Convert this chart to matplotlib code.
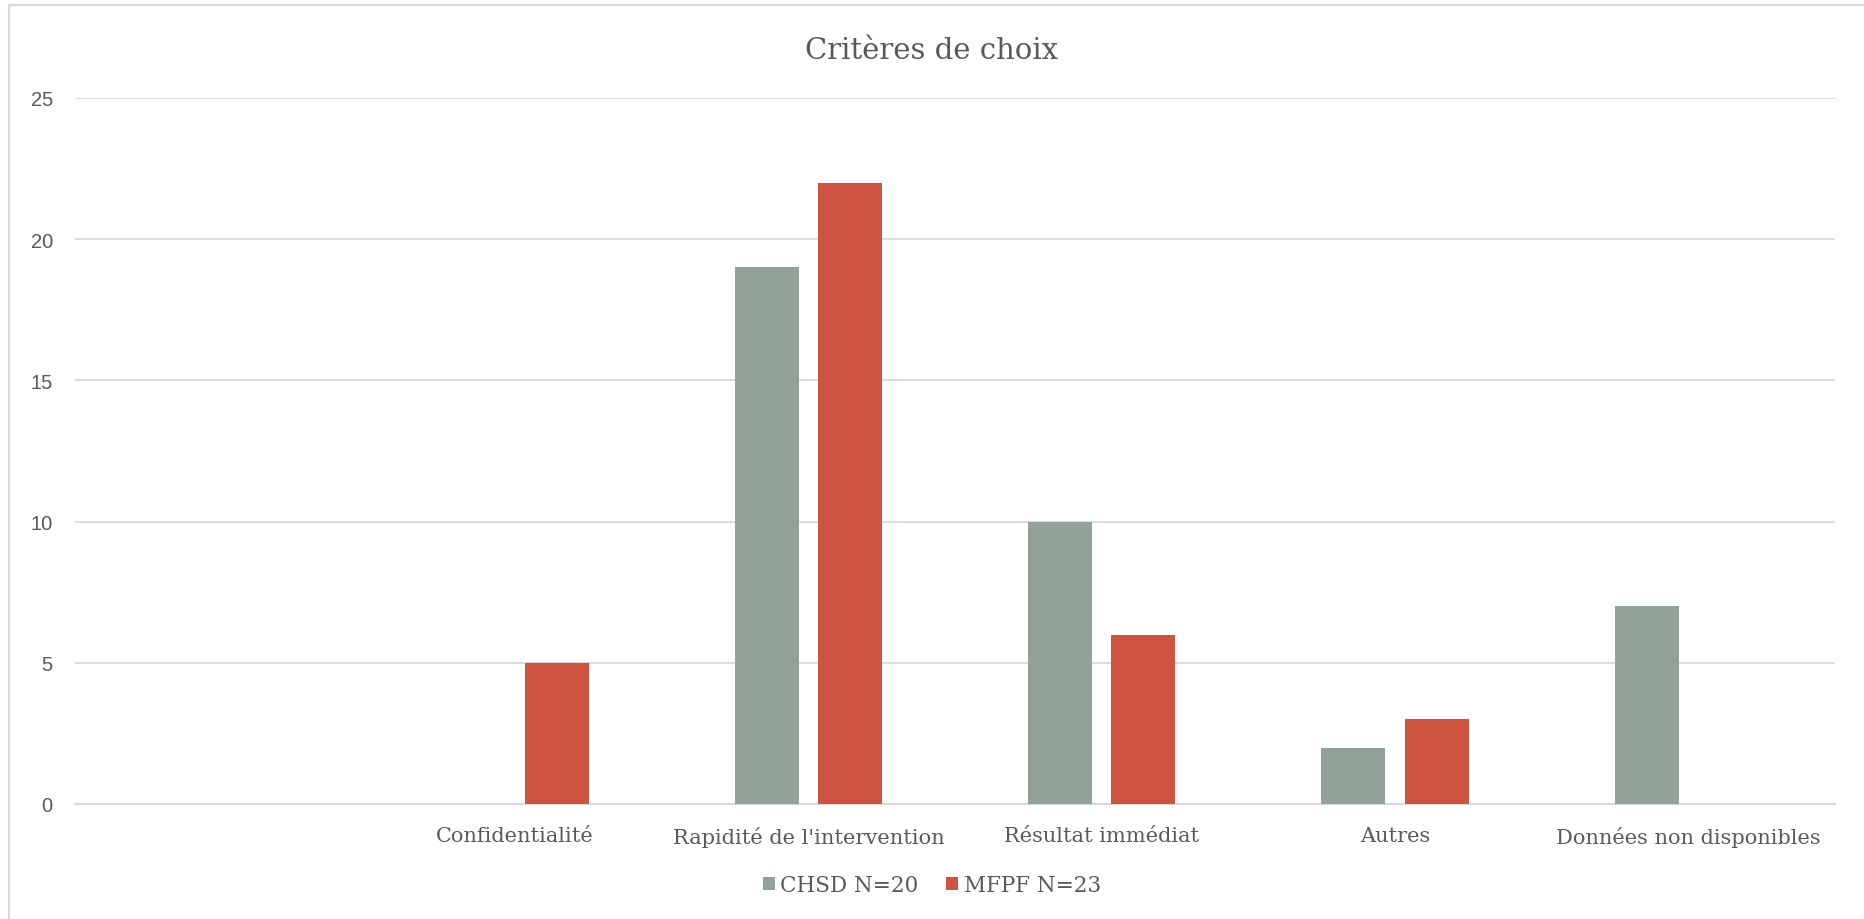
import matplotlib
matplotlib.use('Agg')
import matplotlib.pyplot as plt
from matplotlib.patches import Rectangle
import numpy as np

categories = ['', 'Confidentialité', "Rapidité de l'intervention",
              'Résultat immédiat', 'Autres', 'Données non disponibles']
chsd = [0, 0, 19, 10, 2, 7]
mfpf = [0, 5, 22, 6, 3, 0]
series_names = ['CHSD N=20', 'MFPF N=23']
yticks = [0, 5, 10, 15, 20, 25]

GREY_BAR = '#93A299'
RED_BAR = '#CF543F'
TEXT = '#595959'
GRID = '#D9D9D9'

plt.rcParams['font.family'] = ['DejaVu Serif']

fig = plt.figure(figsize=(18.64, 9.2), dpi=100)
ax = fig.add_axes([75/1864, 1 - 805/920, (1835 - 75)/1864, (805 - 99)/920])

x = np.arange(len(categories))
w = 0.219
off = 0.142
ax.bar(x - off, chsd, width=w, color=GREY_BAR, label=series_names[0], zorder=3)
ax.bar(x + off, mfpf, width=w, color=RED_BAR, label=series_names[1], zorder=3)

ax.set_xlim(-0.5, len(categories) - 0.5)
ax.set_ylim(0, 25)
ax.set_yticks(yticks)
ax.set_xticks(x)
ax.set_xticklabels(categories)
ax.tick_params(axis='both', length=0, colors=TEXT)
ax.tick_params(axis='x', pad=15.5, labelsize=15)
ax.tick_params(axis='y', pad=16, labelsize=14.5)
for t in ax.get_yticklabels():
    t.set_family('Liberation Sans')

ax.yaxis.grid(True, color=GRID, linewidth=1.3, zorder=0)
for s in ['top', 'right', 'left']:
    ax.spines[s].set_visible(False)
ax.spines['bottom'].set_color(GRID)
ax.spines['bottom'].set_linewidth(1.5)

fig.text(0.5, 1 - 51/920, 'Critères de choix', ha='center', va='center',
         fontsize=21, color=TEXT)

leg = fig.legend(loc='center', bbox_to_anchor=(0.5, 1 - 886/920), ncol=2,
                 frameon=False, fontsize=15.5, handlelength=0.55, handleheight=0.55,
                 handletextpad=0.25, columnspacing=1.3)
for t in leg.get_texts():
    t.set_color(TEXT)

# light frame round the chart area
fig.patches.append(Rectangle((9/1864, -0.1), 1.2, 1 - 6/920 + 0.1,
                             transform=fig.transFigure, fill=False,
                             edgecolor=GRID, linewidth=1.5))

fig.savefig('out.png', dpi=100)
